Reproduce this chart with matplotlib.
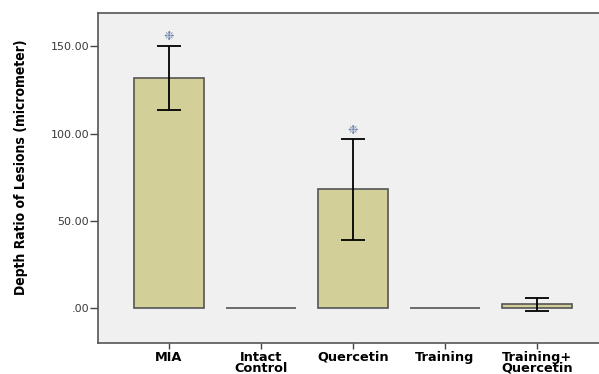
import numpy as np
import matplotlib.pyplot as plt

# group means and error bar limits
groups = ['MIA', 'Intact\nControl', 'Quercetin', 'Training', 'Training+\nQuercetin']
means = [131.9, 0.0, 68.0, 0.0, 2.1]
err_low = [113.3, 0.0, 39.1, 0.0, -1.5]
err_high = [150.2, 0.0, 96.7, 0.0, 5.7]
sig_groups = [0, 2]  # groups marked as significant

fig = plt.figure(figsize=(5.99, 3.74), dpi=100)
ax = fig.add_axes([0.1636, 0.083, 0.8364, 0.882])
ax.set_facecolor('#f0f0f0')

x = np.arange(len(groups))
means = np.array(means)
lo = means - np.array(err_low)
hi = np.array(err_high) - means

ax.bar(x, means, width=0.76, color='#d3cf98', edgecolor='#555555', linewidth=1.2)
has_err = (lo + hi) > 0
ax.errorbar(x[has_err], means[has_err], yerr=[lo[has_err], hi[has_err]],
            fmt='none', ecolor='black', elinewidth=1.3, capsize=8.5, capthick=1.3)

for i in sig_groups:
    ax.text(x[i], err_high[i] + 1.5, '\u2749', ha='center', va='bottom',
            fontsize=9, color='#6f84a8')

ax.set_xlim(-0.772, 4.674)
ax.set_ylim(-20, 169)
ax.set_yticks([0, 50, 100, 150])
ax.set_yticklabels(['.00', '50.00', '100.00', '150.00'], fontsize=8, color='#3a3a3a')
ax.set_xticks(x)
ax.set_xticklabels(groups, fontsize=9.3, fontweight='bold', linespacing=0.8)
ax.tick_params(axis='y', length=6, width=1, color='#444444', pad=0.5)
ax.tick_params(axis='x', length=4, width=1, color='#444444', pad=1.5)

ax.set_ylabel('Depth Ratio of Lesions (micrometer)', fontsize=10,
              fontstretch='condensed', fontweight='bold')
ax.yaxis.set_label_coords(-0.14, 0.533)

for side in ['left', 'top', 'bottom']:
    ax.spines[side].set_color('#555555')
    ax.spines[side].set_linewidth(1.2)
ax.spines['right'].set_visible(False)

fig.savefig('out.png', dpi=100)
